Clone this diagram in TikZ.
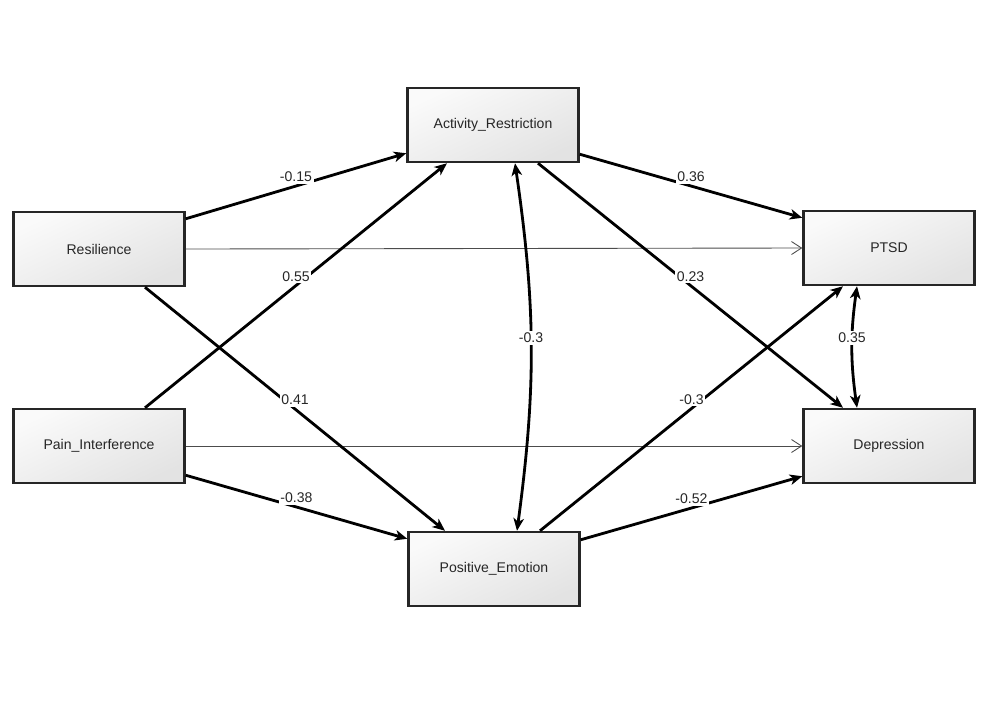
\documentclass[tikz,border=0pt]{standalone}
\usepackage{fontspec}
\setmainfont{Liberation Sans}
\usetikzlibrary{arrows.meta}

\tikzset{
  var/.style={draw=black!85, line width=1.4pt, minimum width=3.42cm, minimum height=1.48cm,
    top color=black!2, bottom color=black!11, shading angle=25,
    font=\fontsize{8}{9.6}\selectfont, text=black!85},
  effect/.style={line width=1.6pt, -{Stealth[length=0.25cm,width=0.21cm,inset=0.07cm]}},
  cov/.style={line width=1.6pt, {Stealth[length=0.25cm,width=0.21cm,inset=0.07cm]}-{Stealth[length=0.25cm,width=0.21cm,inset=0.07cm]}},
  direct/.style={draw=black!70, line width=0.5pt, -{Straight Barb[length=0.2cm,width=0.26cm]}},
  coef/.style={fill=white, inner sep=1pt, yshift=0.18cm, font=\fontsize{8}{9.6}\selectfont, text=black!85}
}

\begin{document}
\begin{tikzpicture}[x=0.02cm,y=-0.02cm]
\useasboundingbox (0,0) rectangle (1000,701);

% variables
\node[var] (act) at (493,125) {Activity\_Restriction};
\node[var] (res) at (99,249) {Resilience};
\node[var] (pain) at (99,446) {Pain\_Interference};
\node[var] (pos) at (494,569) {Positive\_Emotion};
\node[var] (ptsd) at (889,248) {PTSD};
\node[var] (dep) at (889,446) {Depression};

% direct effects without coefficient
\draw[direct] (res.east) -- (ptsd.west);
\draw[direct] (pain.east) -- (dep.west);

% paths from predictors to mediators
\draw[effect] ([yshift=-0.16cm]res.north east) -- node[coef] {-0.15} ([yshift=0.2cm]act.south west);
\draw[effect] ([xshift=0.92cm]pain.north) -- node[coef] {0.55} ([xshift=-0.92cm]act.south);
\draw[effect] ([xshift=0.92cm]res.south) -- node[coef] {0.41} ([xshift=-0.98cm]pos.north);
\draw[effect] ([yshift=0.18cm]pain.south east) -- node[coef] {-0.38} ([yshift=-0.16cm]pos.north west);

% paths from mediators to outcomes
\draw[effect] ([yshift=0.18cm]act.south east) -- node[coef] {0.36} ([yshift=-0.16cm]ptsd.north west);
\draw[effect] ([xshift=0.9cm]act.south) -- node[coef] {0.23} ([xshift=-0.92cm]dep.north);
\draw[effect] ([xshift=0.92cm]pos.north) -- node[coef] {-0.3} ([xshift=-0.92cm]ptsd.south);
\draw[effect] ([yshift=-0.18cm]pos.north east) -- node[coef] {-0.52} ([yshift=0.16cm]dep.south west);

% covariances
\draw[cov] ([xshift=0.44cm]act.south) to[bend left=8] node[coef] {-0.3} ([xshift=0.46cm]pos.north);
\draw[cov] ([xshift=-0.64cm]ptsd.south) to[bend right=8] node[coef] {0.35} ([xshift=-0.64cm]dep.north);
\end{tikzpicture}
\end{document}
